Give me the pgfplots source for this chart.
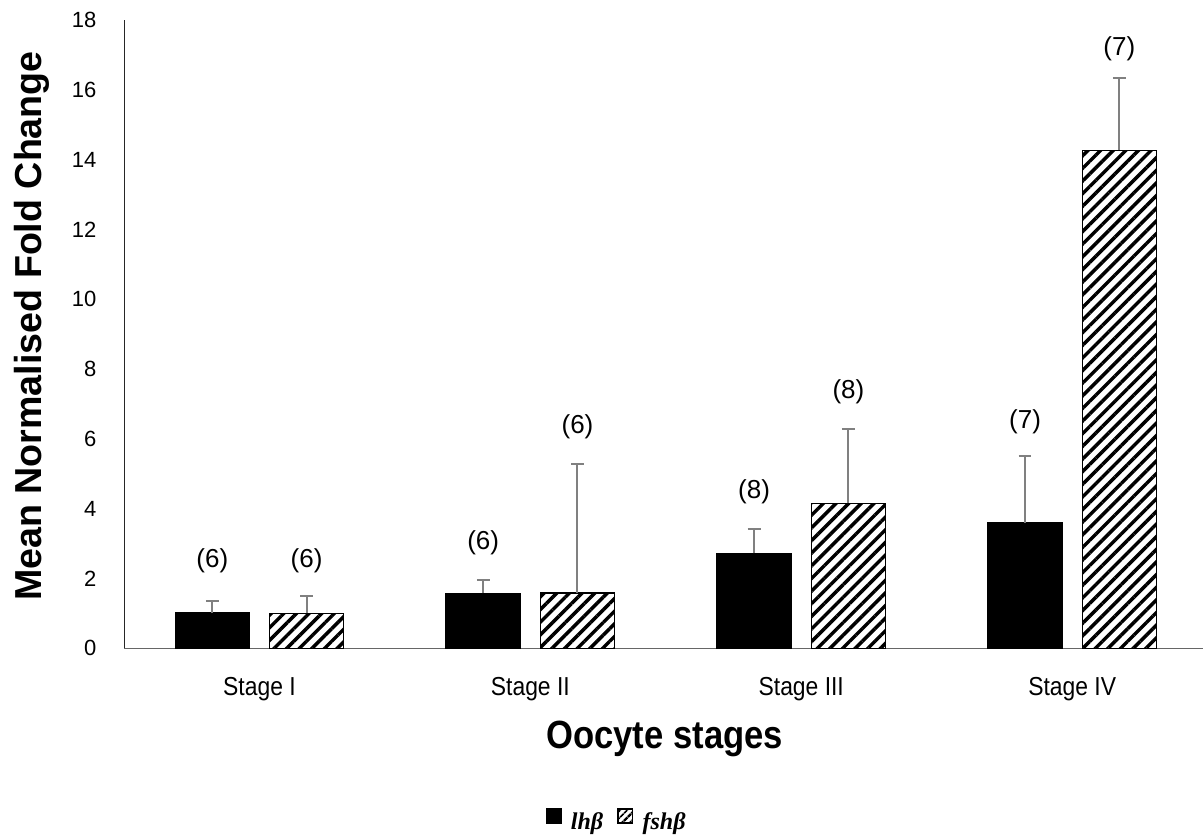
\documentclass[border=0pt]{standalone}
\usepackage{fontspec}
\usepackage{pgfplots}
\usepackage{pgfplotstable}
\pgfplotsset{compat=1.18}
\usetikzlibrary{patterns.meta}
\setmainfont{Liberation Sans}
\newfontfamily\condfont[FakeStretch=0.88]{Liberation Sans}
\newfontfamily\condbold[FakeStretch=0.88]{Liberation Sans}
\newfontfamily\legfont{Liberation Serif}

\pgfplotstableread{
x      y     e
-0.174 1.01  0.34
0.826  1.57  0.40
1.826  2.72  0.69
2.826  3.59  1.92
}\lhb
\pgfplotstableread{
x      y     e
0.174  1.00  0.50
1.174  1.58  3.69
2.174  4.15  2.12
3.174  14.27 2.08
}\fshb
\pgfplotstableread{
x      y     label
-0.174 2.50  (6)
0.174  2.50  (6)
0.826  3.02  (6)
1.174  6.35  (6)
1.826  4.47  (8)
2.174  7.35  (8)
2.826  6.48  (7)
3.174  17.17 (7)
}\labels

\begin{document}
\begin{tikzpicture}
\useasboundingbox (-93.2pt,-139.3pt) rectangle (809.0pt,486.2pt);
\begin{axis}[
  at={(0,0)}, anchor=south west,
  scale only axis,
  width=809pt, height=471.2pt,
  xmin=-0.499, xmax=3.483,
  ymin=0, ymax=18,
  clip=false,
  axis x line=bottom, axis y line=left,
  x axis line style={black!60, line width=1pt, -},
  y axis line style={black!85, line width=1pt, -},
  xtick={0,1,2,3},
  xticklabels={Stage I, Stage II, Stage III, Stage IV},
  ytick={0,2,...,18},
  major tick length=0pt,
  /pgf/number format/assume math mode=true,
  yticklabel style={font=\fontsize{16.5}{19}\selectfont, anchor=east, inner sep=0pt},
  yticklabel shift=20.7pt,
  xticklabel style={font=\condfont\fontsize{19.5}{22}\selectfont, anchor=north, inner sep=0pt},
  xticklabel shift=21.5pt,
  xlabel={Oocyte stages},
  xlabel style={font=\condbold\bfseries\fontsize{29.5}{34}\selectfont, at={(axis description cs:0.501,0)}, anchor=base, yshift=-75pt, inner sep=0pt},
  ylabel={Mean Normalised Fold Change},
  ylabel style={font=\bfseries\fontsize{28.2}{32}\selectfont, at={(axis description cs:-0.0763,0.513)}, anchor=base, inner sep=0pt},
  legend style={at={(axis description cs:0.457,0)}, anchor=center, yshift=-129.3pt,
    draw=none, fill=none, font=\legfont\bfseries\itshape\fontsize{18}{21}\selectfont,
    legend columns=2,
    /tikz/every odd column/.append style={column sep=4.5pt},
    /tikz/every even column/.append style={column sep=8pt}},
]
\addplot[ybar, bar width=0.274, bar shift=0pt, fill=black, draw=black, line width=1pt,
  legend image code/.code={\draw[fill=black, draw=black] (0pt,-1pt) rectangle (11pt,9.5pt);},
  error bars/.cd, y dir=plus, y explicit,
  error bar style={draw=black!50, line width=1.5pt},
  error mark=|,
  error mark options={draw=black!50, line width=1.5pt, mark size=4.8pt}]
  table[x=x, y=y, y error=e] {\lhb};
\addplot[ybar, bar width=0.274, bar shift=0pt, draw=black, line width=1pt,
  pattern={Lines[angle=45, distance=6.7pt, line width=2.6pt]}, pattern color=black,
  legend image code/.code={\draw[draw=black, line width=1pt, pattern={Lines[angle=45, distance=4pt, line width=2pt]}, pattern color=black] (0pt,-1pt) rectangle (11pt,9.5pt);},
  error bars/.cd, y dir=plus, y explicit,
  error bar style={draw=black!50, line width=1.5pt},
  error mark=|,
  error mark options={draw=black!50, line width=1.5pt, mark size=4.8pt}]
  table[x=x, y=y, y error=e] {\fshb};
\addplot[draw=none, mark=none, nodes near coords, point meta=explicit symbolic,
  nodes near coords style={font=\fontsize{19.5}{22}\selectfont, anchor=center, inner sep=0pt}]
  table[x=x, y=y, meta=label] {\labels};
\legend{lhβ, fshβ}
\end{axis}
\end{tikzpicture}
\end{document}
